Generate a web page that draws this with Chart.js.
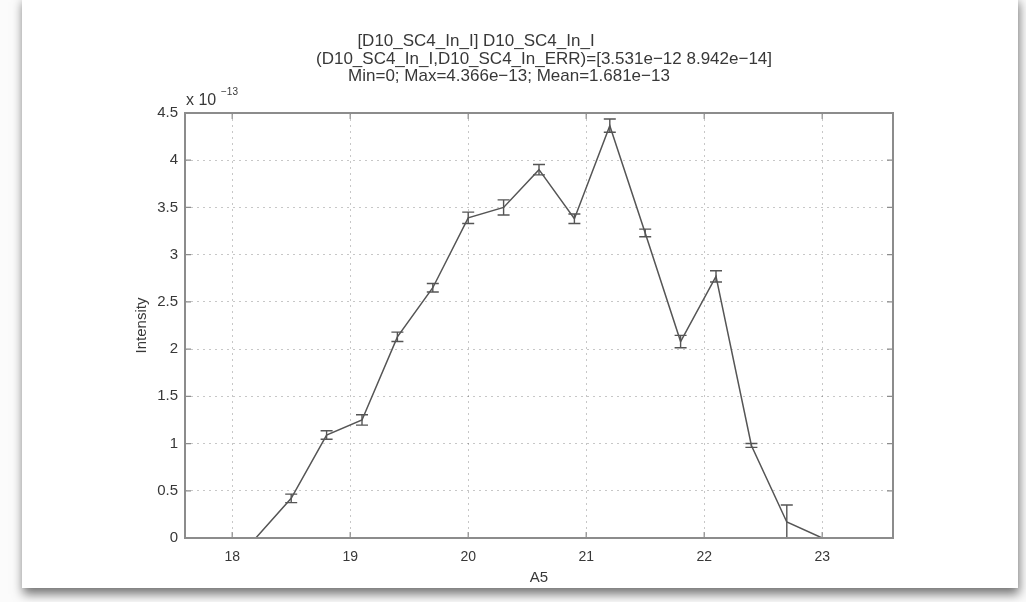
<!DOCTYPE html>
<html>
<head>
<meta charset="utf-8">
<script src="https://cdn.jsdelivr.net/npm/chart.js@4/dist/chart.umd.min.js"></script>
<style>
  html, body { margin: 0; padding: 0; background: #fbfbfb; width: 1026px; height: 602px; overflow: hidden; }
  .card { position: absolute; left: 22px; top: -4px; width: 996px; height: 592px; background: #fff;
          box-shadow: 1px 6px 10px rgba(0, 0, 0, 0.55); }
  #chart { position: absolute; left: 0; top: 0; filter: blur(0.45px); }
</style>
</head>
<body>
<div class="card"></div>
<canvas id="chart" width="1026" height="602"></canvas>
<script>
// A5 scan positions and measured intensity (units of 1e-13)
const xValues = [17.6, 17.9, 18.2, 18.5, 18.8, 19.1, 19.4, 19.7, 20.0, 20.3, 20.6,
                 20.9, 21.2, 21.5, 21.8, 22.1, 22.4, 22.7, 23.0, 23.3, 23.6];
const intensity = [0, 0, 0, 0.42, 1.09, 1.25, 2.13, 2.65, 3.39, 3.50, 3.90,
                   3.38, 4.366, 3.23, 2.08, 2.77, 0.98, 0.17, 0, 0, 0];
const intensityErr = [0, 0, 0, 0.045, 0.045, 0.055, 0.05, 0.045, 0.06, 0.08, 0.055,
                      0.05, 0.07, 0.04, 0.065, 0.06, 0.02, 0.18, 0, 0, 0];
const xTicks = [18, 19, 20, 21, 22, 23];
const yTicks = [0, 0.5, 1, 1.5, 2, 2.5, 3, 3.5, 4, 4.5];
const titleLines = [
    '[D10_SC4_In_I] D10_SC4_In_I',
    '(D10_SC4_In_I,D10_SC4_In_ERR)=[3.531e\u221212 8.942e\u221214]',
    'Min=0; Max=4.366e\u221213; Mean=1.681e\u221213'
];
const xLabel = 'A5';
const yLabel = 'Intensity';

const lineColor = '#555';
const axisColor = '#8c8c8c';
const textColor = '#383838';
const fontFamily = '"Liberation Sans", Arial, sans-serif';

// error bars with caps, drawn through the chart scales
const errorBars = {
    id: 'errorBars',
    afterDatasetsDraw(chart) {
        const { ctx, chartArea, scales: { x, y } } = chart;
        ctx.save();
        ctx.beginPath();
        ctx.rect(chartArea.left, chartArea.top - 10, chartArea.width, chartArea.height + 10);
        ctx.clip();
        ctx.strokeStyle = lineColor;
        ctx.lineWidth = 1.4;
        const cap = 6;
        xValues.forEach((xv, i) => {
            const px = x.getPixelForValue(xv);
            const top = y.getPixelForValue(intensity[i] + intensityErr[i]);
            const bot = y.getPixelForValue(intensity[i] - intensityErr[i]);
            ctx.beginPath();
            ctx.moveTo(px, top); ctx.lineTo(px, bot);
            ctx.moveTo(px - cap, top); ctx.lineTo(px + cap, top);
            ctx.moveTo(px - cap, bot); ctx.lineTo(px + cap, bot);
            ctx.stroke();
        });
        ctx.restore();
    }
};

// matlab style box, inward ticks and texts
const matlabFrame = {
    id: 'matlabFrame',
    afterDraw(chart) {
        const { ctx, chartArea: a, scales: { x, y } } = chart;
        ctx.save();
        ctx.strokeStyle = axisColor;
        ctx.lineWidth = 2;
        ctx.strokeRect(a.left, a.top, a.width, a.height);
        ctx.lineWidth = 1.2;
        const tl = 6;
        ctx.beginPath();
        xTicks.forEach(v => {
            const px = x.getPixelForValue(v);
            ctx.moveTo(px, a.bottom); ctx.lineTo(px, a.bottom - tl);
            ctx.moveTo(px, a.top); ctx.lineTo(px, a.top + tl);
        });
        yTicks.forEach(v => {
            const py = y.getPixelForValue(v);
            ctx.moveTo(a.left, py); ctx.lineTo(a.left + tl, py);
            ctx.moveTo(a.right, py); ctx.lineTo(a.right - tl, py);
        });
        ctx.stroke();

        ctx.fillStyle = textColor;
        ctx.textBaseline = 'middle';
        ctx.textAlign = 'center';
        ctx.font = '17px ' + fontFamily;
        const cx = (a.left + a.right) / 2;
        ctx.fillText(titleLines[0], cx - 63, 41);
        ctx.fillText(titleLines[1], cx + 5, 59);
        ctx.fillText(titleLines[2], cx - 30, 76);

        ctx.font = '15px ' + fontFamily;
        ctx.fillText(xLabel, cx, 578);
        ctx.save();
        ctx.translate(142, (a.top + a.bottom) / 2);
        ctx.rotate(-Math.PI / 2);
        ctx.fillText(yLabel, 0, 0);
        ctx.restore();

        // exponent label
        ctx.textAlign = 'left';
        ctx.font = '16px ' + fontFamily;
        ctx.fillText('x 10', a.left + 1, 101);
        ctx.font = '10px ' + fontFamily;
        ctx.fillText('\u221213', a.left + 36, 92);
        ctx.restore();
    }
};

new Chart(document.getElementById('chart').getContext('2d'), {
    type: 'line',
    data: {
        datasets: [{
            data: xValues.map((v, i) => ({ x: v, y: intensity[i] })),
            borderColor: lineColor,
            borderWidth: 1.5,
            pointRadius: 0,
            tension: 0,
            fill: false
        }]
    },
    options: {
        responsive: false,
        animation: false,
        layout: { padding: { left: 0, top: 113, right: 133, bottom: 0 } },
        plugins: { legend: { display: false }, title: { display: false }, tooltip: { enabled: false } },
        scales: {
            x: {
                type: 'linear',
                min: 17.6,
                max: 23.6,
                afterFit: s => { s.height = 64; },
                afterBuildTicks: s => { s.ticks = xTicks.map(v => ({ value: v })); },
                grid: { color: 'rgba(0,0,0,0.22)', lineWidth: 1, drawTicks: false },
                border: { display: false, dash: [2, 4] },
                ticks: { padding: 11, color: textColor, font: { size: 14, family: fontFamily },
                         callback: v => String(v) }
            },
            y: {
                min: 0,
                max: 4.5,
                afterFit: s => { s.width = 185; },
                afterBuildTicks: s => { s.ticks = yTicks.map(v => ({ value: v })); },
                grid: { color: 'rgba(0,0,0,0.22)', lineWidth: 1, drawTicks: false },
                border: { display: false, dash: [2, 4] },
                ticks: { padding: 7, color: textColor, font: { size: 15, family: fontFamily },
                         callback: v => String(v) }
            }
        }
    },
    plugins: [errorBars, matlabFrame]
});
</script>
</body>
</html>
